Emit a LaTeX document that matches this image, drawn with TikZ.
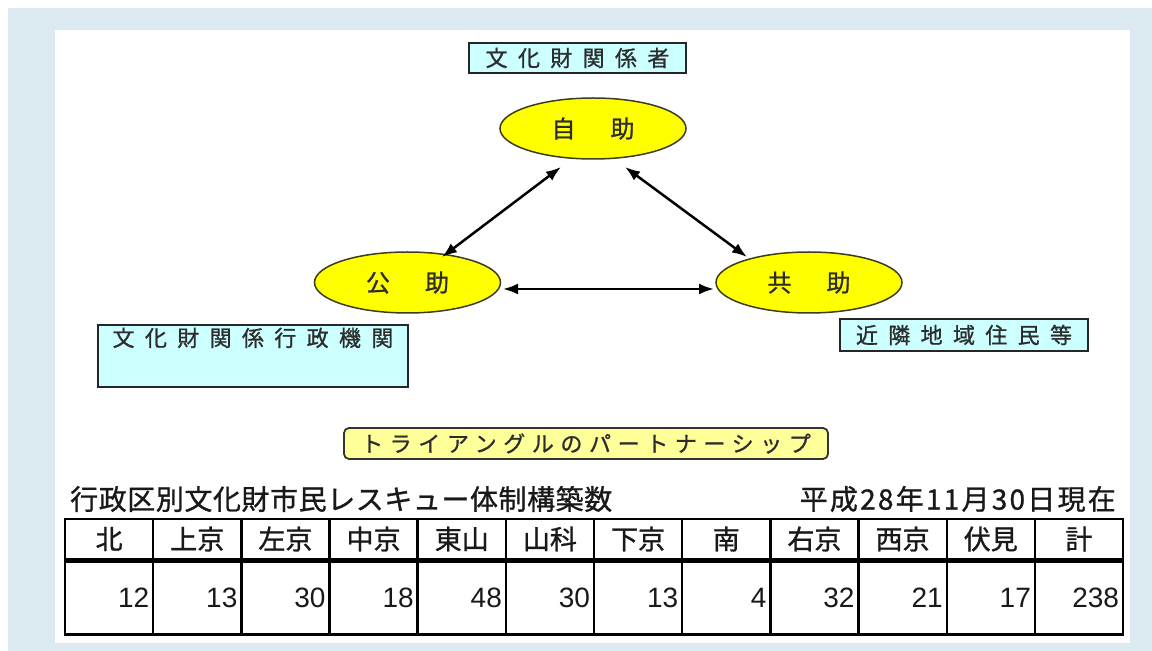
\documentclass[tikz,border=0pt]{standalone}
\usepackage{fontspec}
\usetikzlibrary{positioning,shapes.geometric,arrows.meta}
\newfontfamily\jpfont[FakeBold=1]{Noto Sans CJK JP}
\newfontfamily\numfont{Liberation Sans}
\definecolor{panelblue}{RGB}{219,234,240}
\definecolor{rolecyan}{RGB}{204,255,255}
\definecolor{helpyellow}{RGB}{255,255,0}
\definecolor{paleyellow}{RGB}{255,255,153}
\definecolor{rimline}{RGB}{60,60,30}
\definecolor{inkgray}{RGB}{45,45,45}

\begin{document}
\begin{tikzpicture}[x=1pt,y=1pt,
    help node/.style = {ellipse, draw=rimline, line width=1.5pt, fill=helpyellow, minimum width=186pt, minimum height=61pt, inner sep=0pt, text=inkgray, font=\jpfont\fontsize{24}{28}\selectfont},
    role text/.style = {text=inkgray, inner sep=0pt, font=\jpfont\fontsize{22}{26}\selectfont\addfontfeature{LetterSpace=47}},
    role node/.style = {role text, rectangle, draw=black!85, line width=2.2pt, fill=rolecyan},
    partner node/.style = {rectangle, rounded corners=5pt, draw=black!80, line width=1.8pt, fill=paleyellow, minimum width=484pt, minimum height=31pt, inner sep=0pt, text=inkgray, font=\jpfont\fontsize{22}{26}\selectfont\addfontfeature{LetterSpace=30}},
    head text/.style = {inner sep=0pt, text=black!90, font=\jpfont\fontsize{28}{32}\selectfont},
    both way/.style = {{Latex[length=15pt,width=11pt]}-{Latex[length=15pt,width=11pt]}, line width=2.5pt},
    ward cell/.style = {draw, line width=2.4pt, minimum width=88.17pt, minimum height=40pt, inner sep=0pt, text=black!90, font=\jpfont\fontsize{27}{30}\selectfont},
    count cell/.style = {draw, line width=2.4pt, minimum height=73pt, text width=80.17pt, inner xsep=4pt, inner ysep=0pt, align=right, text=black!90, font=\numfont\fontsize{28}{32}\selectfont}]

\useasboundingbox (0,0) rectangle (1152,651);
\fill[white] (0,0) rectangle (1152,651);
\fill[panelblue] (8,0) rectangle (1152,643);
\fill[white] (55,8) rectangle (1130,621);

% triangle of help
\node[role node, minimum width=217pt, minimum height=30pt] (kankei) at (577.5,593) {文化財関係者};
\node[help node] (jijo) at (593,522.5) {自\hspace{35pt}助\hspace{21pt}};
\node[help node] (kojo) at (407.5,368.5) {公\hspace{35pt}助\hspace{21pt}};
\node[help node] (kyojo) at (809,368.5) {共\hspace{35pt}助\hspace{21pt}};

\node[role node, minimum width=310pt, minimum height=62pt] (gyosei) at (253,295) {};
\node[role text] (gyoseitext) at ([yshift=-14pt]gyosei.north) {文化財関係行政機関};
\node[role node, minimum width=248pt, minimum height=32pt] (kinrin) at (964,316) {近隣地域住民等};

\draw[both way] ([shift={(-32,-38.5)}]jijo.center) -- ([shift={(34.5,25.5)}]kojo.center);
\draw[both way] ([shift={(32,-38.5)}]jijo.center) -- ([shift={(-62,25.5)}]kyojo.center);
\draw[both way] ([shift={(95.5,-6.5)}]kojo.center) -- ([shift={(-95,-6.5)}]kyojo.center);

\node[partner node] (partner) at (586,207.5) {トライアングルのパートナーシップ};

% rescue table
\node[head text, anchor=west, font=\jpfont\fontsize{28}{32}\selectfont\addfontfeature{LetterSpace=2}] (title) at (70,152) {行政区別文化財市民レスキュー体制構築数};
\node[head text, anchor=east, font=\jpfont\fontsize{28}{32}\selectfont\addfontfeature{LetterSpace=8}] (asof) at (1116,152) {平成28年11月30日現在};

\foreach \ward/\num [count=\i] in {北/12,上京/13,左京/30,中京/18,東山/48,山科/30,下京/13,南/4,右京/32,西京/21,伏見/17,計/238} {
  \node[ward cell] (ward\i) at ({65+88.17*(\i-0.5)},112) {\ward};
  \node[count cell, below=0pt of ward\i] (count\i) {\num};
}

\end{tikzpicture}
\end{document}
